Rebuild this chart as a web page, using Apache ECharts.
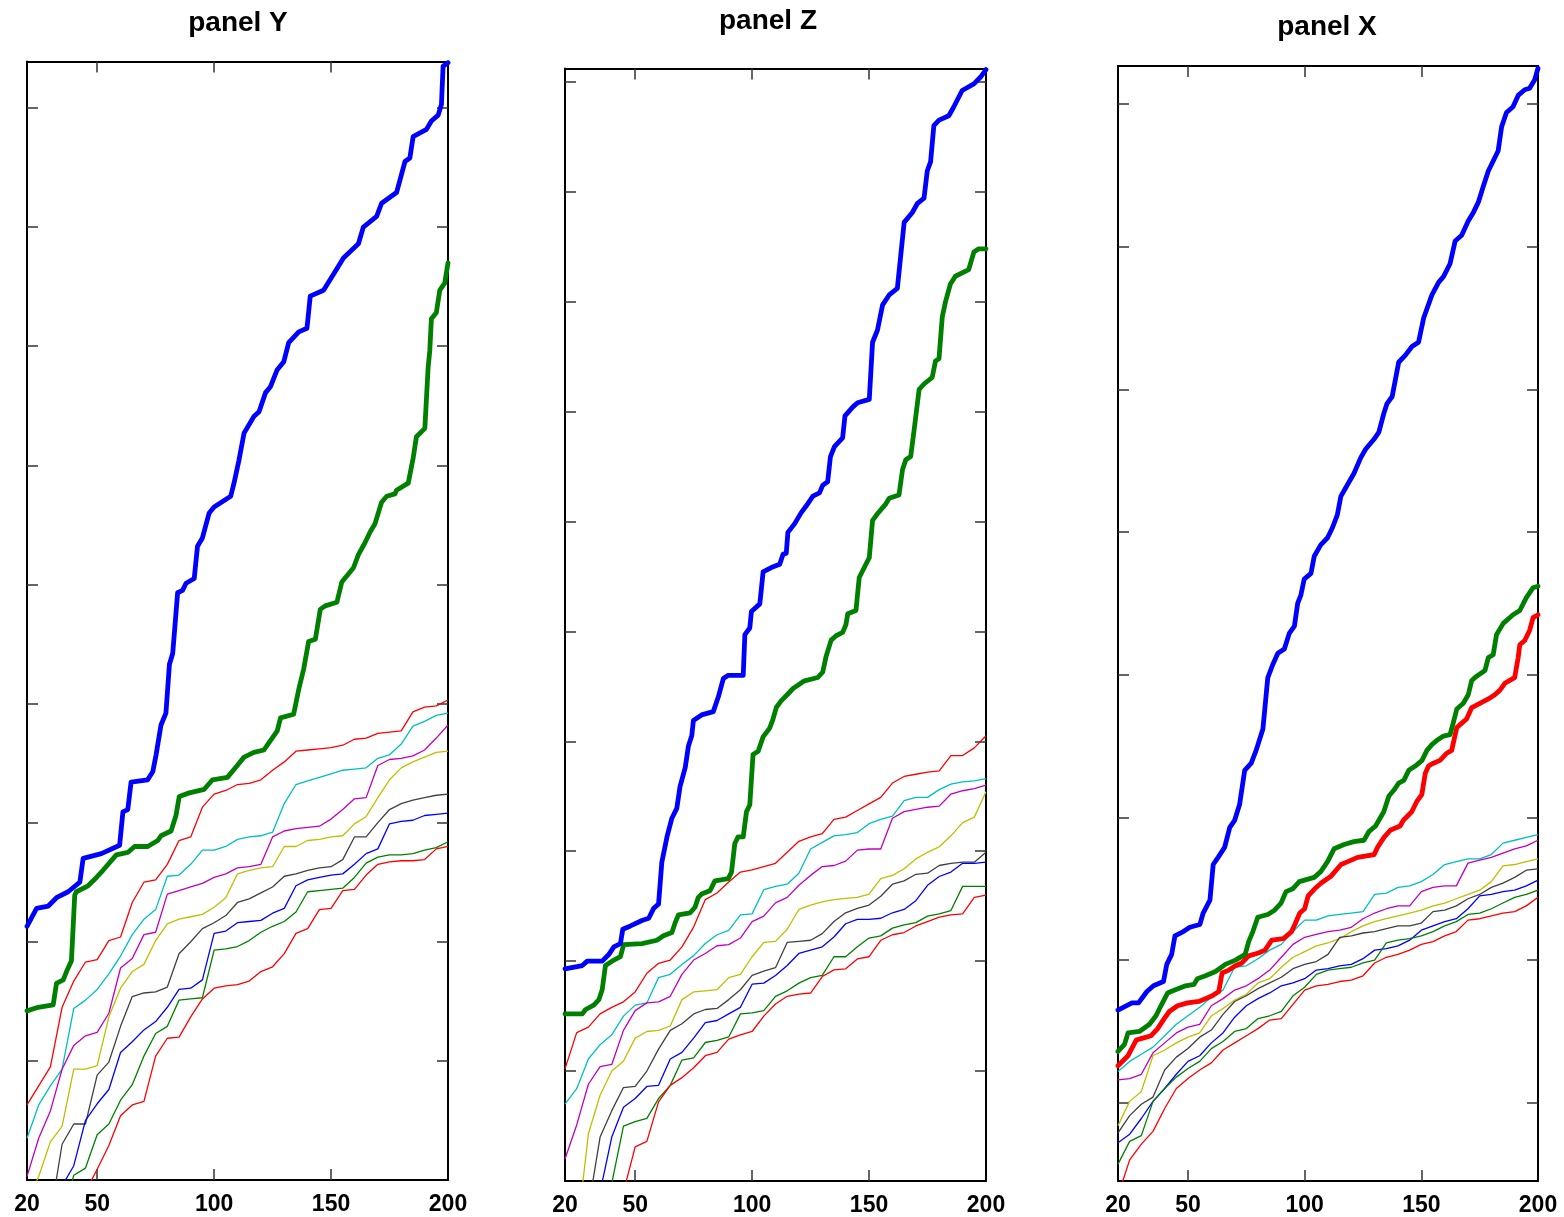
<!DOCTYPE html>
<html>
<head>
<meta charset="utf-8">
<script src="https://cdn.jsdelivr.net/npm/echarts@6/dist/echarts.min.js"></script>
<style>
html,body{margin:0;padding:0;background:#fff;}
#chart{width:1564px;height:1217px;}
</style>
</head>
<body>
<div id="chart"></div>
<script>
// ---------- shared x grid and tick labels ----------
const xGrid = [20,25,30,35,40,45,50,55,60,65,70,75,80,85,90,95,100,105,110,115,120,125,130,135,140,145,150,155,160,165,170,175,180,185,190,195,200];
const xTickLabels = [20,50,100,150,200];
const xInnerTicks = [50,100,150];
const panelTitles = ['panel Y','panel Z','panel X'];

// ---------- panel Y ----------
const Y_red1    = [0.63,0.79,0.95,1.45,1.67,1.83,1.85,2.01,2.04,2.33,2.50,2.52,2.65,2.85,2.88,3.13,3.24,3.27,3.32,3.33,3.36,3.44,3.51,3.60,3.61,3.62,3.63,3.65,3.70,3.71,3.75,3.76,3.77,3.93,3.97,3.98,4.03];
const Y_cyan    = [0.35,0.63,0.79,0.93,1.44,1.51,1.60,1.73,1.88,2.06,2.19,2.27,2.55,2.56,2.65,2.77,2.77,2.80,2.86,2.88,2.89,2.92,3.16,3.32,3.35,3.38,3.41,3.44,3.45,3.46,3.54,3.57,3.66,3.81,3.85,3.90,3.92];
const Y_magenta = [0.03,0.35,0.58,0.93,1.13,1.21,1.24,1.40,1.78,1.86,2.06,2.08,2.40,2.43,2.46,2.49,2.54,2.57,2.62,2.63,2.65,2.88,2.93,2.95,2.96,2.97,3.03,3.11,3.20,3.21,3.48,3.53,3.54,3.56,3.61,3.71,3.82];
const Y_yellow  = [-0.2,0.03,0.32,0.45,0.93,0.93,0.96,1.37,1.61,1.75,1.81,2.01,2.15,2.19,2.21,2.23,2.29,2.37,2.57,2.60,2.62,2.63,2.80,2.80,2.85,2.86,2.88,2.89,2.99,3.05,3.21,3.36,3.46,3.51,3.55,3.59,3.60];
const Y_gray    = [-0.8,-0.5,-0.3,0.30,0.47,0.47,0.88,0.99,1.29,1.54,1.57,1.58,1.62,1.90,2.00,2.11,2.16,2.22,2.33,2.36,2.41,2.46,2.55,2.57,2.60,2.62,2.63,2.69,2.88,2.88,3.00,3.11,3.16,3.19,3.21,3.23,3.24];
const Y_blue    = [-1.0,-0.7,-0.4,-0.05,0.12,0.50,0.64,0.76,1.07,1.16,1.26,1.33,1.45,1.60,1.61,1.68,2.07,2.09,2.16,2.17,2.18,2.24,2.28,2.47,2.52,2.54,2.56,2.57,2.65,2.74,2.78,2.99,3.01,3.02,3.06,3.07,3.08];
const Y_green   = [-1.2,-1.0,-0.7,-0.3,0.04,0.10,0.38,0.47,0.67,0.80,1.04,1.23,1.29,1.51,1.52,1.53,1.93,1.94,1.96,2.01,2.08,2.13,2.17,2.25,2.42,2.43,2.44,2.45,2.54,2.66,2.71,2.73,2.73,2.74,2.77,2.79,2.84];
const Y_red2    = [-1.4,-1.2,-0.9,-0.6,-0.3,-0.1,0.09,0.29,0.54,0.63,0.66,1.04,1.19,1.20,1.37,1.52,1.61,1.63,1.64,1.67,1.75,1.79,1.90,2.07,2.11,2.27,2.28,2.43,2.44,2.56,2.65,2.67,2.68,2.68,2.69,2.78,2.80];
const Y_thickBlue = [[20,2.13],[24.1,2.28],[29.1,2.30],[32.6,2.37],[37.6,2.42],[42.6,2.50],[44.0,2.70],[51.8,2.74],[59.6,2.81],[61.0,3.09],[63.1,3.11],[64.5,3.34],[71.6,3.36],[73.8,3.43],[75.2,3.57],[77.3,3.82],[79.4,3.92],[80.9,4.33],[82.3,4.42],[84.4,4.93],[86.5,4.95],[88.0,5.01],[91.5,5.05],[92.9,5.32],[95.0,5.39],[97.9,5.60],[100.0,5.65],[107.1,5.74],[108.5,5.85],[110.6,6.04],[112.8,6.27],[117.0,6.41],[119.2,6.45],[122.0,6.61],[124.1,6.66],[126.9,6.80],[129.8,6.87],[131.9,7.03],[136.2,7.12],[139.7,7.15],[141.1,7.42],[146.8,7.47],[152.5,7.65],[155.3,7.74],[161.7,7.86],[163.8,8.00],[169.5,8.09],[171.6,8.20],[178.0,8.29],[179.4,8.39],[181.6,8.55],[183.7,8.58],[185.1,8.76],[190.8,8.82],[192.9,8.89],[195.8,8.94],[197.2,9.03],[197.9,9.35],[200,9.38]];
const Y_thickGreen = [[20,1.42],[24.8,1.45],[31.2,1.47],[32.6,1.65],[35.5,1.68],[36.9,1.75],[39.0,1.84],[40.4,2.39],[41.1,2.42],[46.1,2.47],[49.7,2.54],[52.5,2.60],[58.2,2.73],[63.1,2.75],[66.0,2.80],[71.6,2.80],[75.9,2.85],[77.3,2.89],[81.6,2.93],[83.7,3.06],[85.1,3.22],[89.4,3.25],[95.8,3.28],[99.3,3.36],[105.7,3.38],[109.9,3.48],[112.8,3.55],[117.0,3.59],[121.3,3.61],[123.4,3.67],[127.0,3.77],[128.4,3.88],[134.0,3.91],[136.2,4.12],[138.3,4.29],[140.4,4.52],[143.3,4.54],[145.4,4.79],[147.5,4.82],[152.5,4.85],[154.6,5.02],[157.5,5.09],[159.6,5.14],[161.7,5.25],[164.5,5.35],[166.7,5.44],[168.8,5.51],[171.6,5.69],[173.8,5.74],[177.3,5.76],[178.0,5.79],[183.0,5.85],[185.1,6.06],[186.5,6.24],[190.1,6.31],[191.5,6.82],[192.2,6.96],[192.9,7.23],[195.0,7.28],[196.5,7.47],[198.6,7.53],[200,7.70]];

// ---------- panel Z ----------
const Z_red1    = [1.02,1.35,1.40,1.52,1.58,1.63,1.72,1.89,1.98,2.01,2.13,2.31,2.56,2.62,2.72,2.81,2.83,2.86,2.89,2.99,3.09,3.13,3.16,3.29,3.31,3.37,3.43,3.49,3.62,3.68,3.70,3.72,3.73,3.87,3.87,3.94,4.05];
const Z_cyan    = [0.70,0.84,1.11,1.24,1.33,1.50,1.60,1.62,1.85,1.88,1.97,2.05,2.16,2.24,2.28,2.42,2.43,2.65,2.68,2.70,2.80,3.02,3.08,3.14,3.15,3.17,3.25,3.29,3.32,3.46,3.49,3.49,3.56,3.61,3.63,3.64,3.66];
const Z_magenta = [0.20,0.51,0.88,1.04,1.06,1.37,1.55,1.62,1.63,1.68,1.88,2.01,2.07,2.14,2.15,2.21,2.36,2.41,2.53,2.58,2.69,2.78,2.86,2.87,2.91,3.01,3.02,3.02,3.30,3.36,3.38,3.40,3.41,3.52,3.55,3.57,3.60];
const Z_yellow  = [-1.6,-0.5,0.43,0.78,1.00,1.09,1.30,1.36,1.37,1.41,1.65,1.72,1.73,1.74,1.85,1.88,2.04,2.17,2.18,2.29,2.47,2.51,2.54,2.56,2.57,2.58,2.61,2.75,2.78,2.84,2.93,2.99,3.04,3.14,3.26,3.31,3.54];
const Z_gray    = [-1.2,-0.8,-0.25,0.40,0.64,0.85,0.86,1.00,1.20,1.37,1.43,1.52,1.56,1.57,1.65,1.74,1.87,1.91,1.94,2.17,2.18,2.19,2.25,2.36,2.44,2.48,2.51,2.59,2.70,2.73,2.79,2.80,2.87,2.89,2.90,2.90,2.99];
const Z_blue    = [-1.4,-1.0,-0.6,-0.1,0.40,0.67,0.75,0.86,0.87,1.11,1.17,1.30,1.44,1.46,1.52,1.58,1.79,1.80,1.87,1.96,2.07,2.10,2.13,2.22,2.34,2.38,2.38,2.39,2.44,2.47,2.55,2.69,2.77,2.81,2.89,2.89,2.90];
const Z_green   = [-1.6,-1.2,-0.8,-0.4,-0.02,0.50,0.54,0.57,0.75,0.87,1.10,1.12,1.26,1.28,1.31,1.52,1.53,1.55,1.68,1.73,1.80,1.85,1.87,2.04,2.04,2.13,2.21,2.23,2.30,2.33,2.35,2.41,2.43,2.46,2.68,2.68,2.68];
const Z_red2    = [-1.8,-1.4,-1.0,-0.6,-0.4,-0.1,0.31,0.36,0.72,0.87,0.94,1.03,1.14,1.17,1.29,1.33,1.36,1.50,1.61,1.68,1.70,1.71,1.86,1.92,1.93,2.02,2.04,2.19,2.24,2.26,2.32,2.36,2.40,2.42,2.43,2.58,2.60];
const Z_thickBlue = [[20,1.93],[27.4,1.96],[29.5,2.00],[35.9,2.00],[38.7,2.06],[40.9,2.13],[43.7,2.16],[44.7,2.29],[48.0,2.32],[52.9,2.37],[55.8,2.39],[57.9,2.48],[60.0,2.52],[61.4,2.90],[63.6,3.13],[65.7,3.30],[67.8,3.39],[69.2,3.59],[71.4,3.76],[72.8,3.96],[74.2,4.05],[74.9,4.19],[78.4,4.24],[83.4,4.27],[85.5,4.40],[87.7,4.57],[89.8,4.60],[96.2,4.60],[96.9,4.97],[99.0,5.03],[99.7,5.18],[103.3,5.25],[104.7,5.54],[108.2,5.58],[111.8,5.61],[113.2,5.70],[114.6,5.71],[115.3,5.90],[118.2,5.98],[121.0,6.08],[123.1,6.14],[126.0,6.23],[128.8,6.26],[130.2,6.33],[132.3,6.36],[133.5,6.59],[135.2,6.68],[138.7,6.76],[139.7,6.96],[143.0,7.04],[145.1,7.08],[150.1,7.11],[151.5,7.63],[153.6,7.74],[155.8,7.97],[158.6,8.06],[162.1,8.12],[165.0,8.72],[168.5,8.81],[170.6,8.89],[173.5,8.94],[174.9,9.19],[176.3,9.27],[177.7,9.60],[179.9,9.65],[184.1,9.69],[186.2,9.77],[189.8,9.92],[194.8,9.98],[197.6,10.04],[200,10.11]];
const Z_thickGreen = [[20,1.52],[27.4,1.52],[28.8,1.56],[32.3,1.60],[34.5,1.65],[35.9,1.74],[37.3,1.96],[40.1,2.00],[43.7,2.04],[45.1,2.15],[52.9,2.16],[59.3,2.19],[62.1,2.23],[65.7,2.26],[67.1,2.35],[68.5,2.42],[73.5,2.44],[75.6,2.49],[77.0,2.58],[78.4,2.61],[82.0,2.64],[84.1,2.73],[89.8,2.75],[91.2,2.81],[92.6,3.07],[94.0,3.13],[96.2,3.13],[97.6,3.36],[99.0,3.42],[100.4,3.88],[102.6,3.91],[104.7,4.04],[107.5,4.12],[108.9,4.20],[110.4,4.31],[112.5,4.37],[115.3,4.43],[117.5,4.48],[122.4,4.55],[128.1,4.58],[130.2,4.63],[131.6,4.77],[133.8,4.92],[135.9,4.96],[138.7,4.99],[140.1,5.06],[140.9,5.16],[144.4,5.19],[145.8,5.49],[150.1,5.67],[151.5,6.01],[153.6,6.07],[157.2,6.16],[158.6,6.21],[162.8,6.24],[164.3,6.47],[165.7,6.56],[167.8,6.59],[169.2,6.82],[171.4,7.20],[173.5,7.25],[177.0,7.31],[178.4,7.46],[179.9,7.48],[181.3,7.86],[182.7,8.00],[184.8,8.16],[186.9,8.23],[192.6,8.29],[194.8,8.45],[196.9,8.48],[200,8.48]];

// ---------- panel X ----------
const X_cyan    = [0.22,0.29,0.34,0.39,0.47,0.55,0.61,0.67,0.74,0.79,0.95,0.96,1.01,1.07,1.11,1.20,1.28,1.28,1.31,1.32,1.33,1.34,1.46,1.47,1.51,1.52,1.55,1.60,1.67,1.69,1.71,1.71,1.74,1.82,1.84,1.86,1.88];
const X_magenta = [0.16,0.17,0.20,0.35,0.42,0.49,0.53,0.55,0.68,0.73,0.79,0.82,0.87,0.93,1.02,1.11,1.16,1.18,1.20,1.21,1.23,1.29,1.33,1.36,1.38,1.38,1.48,1.51,1.52,1.52,1.68,1.70,1.72,1.75,1.78,1.80,1.84];
const X_yellow  = [-0.16,0.01,0.08,0.33,0.37,0.42,0.46,0.49,0.61,0.66,0.72,0.76,0.84,0.87,0.95,1.02,1.06,1.10,1.12,1.15,1.20,1.24,1.27,1.29,1.31,1.33,1.35,1.38,1.40,1.43,1.46,1.49,1.55,1.66,1.67,1.69,1.71];
const X_gray    = [-0.21,-0.09,-0.01,0.04,0.23,0.32,0.38,0.46,0.51,0.62,0.71,0.75,0.80,0.84,0.88,0.94,0.97,0.99,1.04,1.16,1.17,1.19,1.20,1.22,1.24,1.24,1.26,1.34,1.35,1.38,1.43,1.46,1.51,1.54,1.58,1.63,1.64];
const X_blue    = [-0.28,-0.22,-0.11,0.01,0.10,0.20,0.29,0.33,0.42,0.49,0.60,0.68,0.73,0.77,0.82,0.84,0.87,0.93,0.94,0.96,0.97,1.01,1.07,1.08,1.10,1.14,1.21,1.24,1.27,1.29,1.36,1.45,1.46,1.48,1.49,1.52,1.56];
const X_green   = [-0.43,-0.27,-0.23,0.01,0.10,0.18,0.24,0.29,0.38,0.43,0.50,0.52,0.59,0.61,0.64,0.75,0.81,0.90,0.93,0.94,0.95,0.98,1.00,1.12,1.14,1.15,1.17,1.20,1.24,1.27,1.32,1.33,1.36,1.40,1.44,1.46,1.49];
const X_red     = [-0.65,-0.40,-0.29,-0.20,-0.04,0.10,0.17,0.23,0.28,0.37,0.42,0.47,0.52,0.58,0.59,0.69,0.79,0.82,0.83,0.85,0.86,0.89,0.98,1.02,1.04,1.07,1.11,1.13,1.17,1.20,1.28,1.29,1.31,1.33,1.34,1.38,1.44];
const X_thickBlue = [[20,0.65],[26.0,0.70],[28.8,0.70],[32.4,0.78],[35.2,0.82],[39.5,0.85],[40.9,0.97],[43.0,1.04],[44.4,1.17],[48.0,1.20],[50.8,1.23],[55.1,1.25],[56.5,1.33],[59.4,1.42],[60.8,1.67],[62.9,1.72],[65.7,1.79],[67.9,1.93],[70.0,1.98],[72.1,2.09],[74.3,2.33],[77.1,2.38],[79.2,2.47],[82.1,2.62],[84.2,2.98],[86.3,3.07],[88.5,3.15],[91.3,3.18],[93.4,3.29],[95.6,3.34],[97.0,3.50],[98.4,3.56],[99.8,3.67],[102.7,3.71],[104.1,3.83],[106.9,3.91],[109.8,3.96],[111.9,4.03],[114.0,4.12],[115.5,4.25],[117.6,4.31],[121.1,4.41],[124.0,4.52],[126.1,4.58],[129.7,4.65],[131.8,4.70],[133.9,4.83],[135.3,4.90],[137.5,4.95],[140.3,5.19],[143.2,5.24],[146.0,5.30],[148.8,5.33],[151.0,5.50],[154.5,5.66],[157.4,5.75],[159.5,5.79],[162.3,5.88],[164.5,6.04],[167.3,6.08],[170.1,6.18],[172.3,6.24],[174.4,6.31],[176.5,6.42],[178.7,6.53],[180.8,6.60],[182.9,6.67],[184.4,6.84],[186.5,6.94],[189.3,6.98],[191.5,7.06],[194.3,7.10],[196.4,7.11],[198.6,7.17],[200,7.25]];
const X_thickGreen = [[20,0.36],[22.8,0.41],[24.3,0.49],[29.2,0.50],[33.5,0.55],[36.3,0.61],[38.4,0.68],[41.3,0.77],[42.7,0.78],[49.0,0.82],[52.6,0.83],[54.0,0.87],[57.5,0.89],[61.8,0.92],[66.0,0.97],[70.3,1.00],[74.5,1.04],[76.0,1.13],[77.8,1.20],[79.9,1.30],[84.2,1.32],[87.1,1.35],[89.9,1.40],[92.0,1.48],[94.9,1.50],[97.7,1.55],[104.1,1.58],[106.9,1.62],[109.8,1.69],[112.6,1.78],[116.9,1.81],[121.1,1.83],[125.4,1.84],[127.5,1.90],[130.4,1.94],[131.8,1.98],[133.9,2.04],[136.1,2.15],[138.2,2.19],[140.3,2.24],[142.5,2.26],[144.6,2.33],[147.4,2.36],[150.3,2.40],[152.4,2.47],[154.5,2.51],[156.7,2.54],[159.5,2.57],[162.3,2.58],[163.8,2.67],[165.2,2.76],[168.0,2.80],[170.1,2.86],[171.6,2.96],[173.7,2.99],[177.3,3.03],[178.7,3.12],[180.8,3.14],[182.2,3.28],[185.1,3.36],[189.3,3.42],[192.2,3.45],[195.0,3.54],[197.9,3.61],[200,3.62]];
const X_thickRed = [[20,0.26],[24.3,0.33],[27.8,0.44],[29.9,0.45],[34.2,0.47],[37.0,0.52],[39.8,0.59],[42.0,0.64],[45.5,0.68],[49.8,0.70],[54.7,0.71],[57.5,0.73],[60.4,0.75],[63.2,0.78],[64.6,0.91],[67.5,0.93],[70.3,0.96],[73.1,0.98],[76.0,1.03],[80.2,1.05],[83.0,1.07],[85.9,1.14],[90.8,1.15],[94.4,1.20],[95.8,1.25],[97.9,1.33],[100.0,1.36],[101.5,1.45],[104.3,1.50],[107.1,1.54],[111.4,1.59],[115.6,1.67],[118.5,1.69],[122.7,1.72],[129.8,1.74],[131.2,1.79],[134.0,1.86],[136.7,1.91],[140.9,1.94],[142.3,1.98],[145.9,2.04],[148.0,2.11],[150.2,2.16],[151.7,2.31],[153.1,2.36],[155.2,2.38],[158.0,2.40],[160.9,2.45],[163.0,2.47],[165.2,2.63],[166.6,2.65],[169.4,2.69],[171.6,2.77],[175.1,2.80],[178.7,2.83],[181.5,2.86],[183.6,2.89],[185.8,2.94],[187.9,2.96],[190.0,2.98],[191.5,3.12],[192.2,3.21],[194.3,3.24],[196.4,3.31],[197.9,3.40],[200,3.42]];

// y tick positions (unlabelled) per panel
const yTicksY = [1,2,3,4,5,6,7,8,9];
const yTicksZ = [1,2,3,4,5,6,7,8,9,10];
const yTicksX = [0,1,2,3,4,5,6,7];

// ---------- styling / layout ----------
const COL = {red:'#ff0000', cyan:'#00bfbf', magenta:'#bf00bf', yellow:'#bfbf00', gray:'#404040', blue:'#0000ff', green:'#008000'};
const FONT = "'Liberation Sans', Arial, sans-serif";
const panels = [
  {title:panelTitles[0], titleX:238, titleTop:9,  left:27,  top:61.5, width:421, height:1118.5, ymin:0,      ymax:9.39,  yticks:yTicksY,
   thin:[[Y_red1,'red'],[Y_cyan,'cyan'],[Y_magenta,'magenta'],[Y_yellow,'yellow'],[Y_gray,'gray'],[Y_blue,'blue'],[Y_green,'green'],[Y_red2,'red']],
   thick:[[Y_thickGreen,'green'],[Y_thickBlue,'blue']]},
  {title:panelTitles[1], titleX:768, titleTop:7,  left:565, top:68.5, width:421, height:1117.5, ymin:0,      ymax:10.12, yticks:yTicksZ,
   thin:[[Z_red1,'red'],[Z_cyan,'cyan'],[Z_magenta,'magenta'],[Z_yellow,'yellow'],[Z_gray,'gray'],[Z_blue,'blue'],[Z_green,'green'],[Z_red2,'red']],
   thick:[[Z_thickGreen,'green'],[Z_thickBlue,'blue']]},
  {title:panelTitles[2], titleX:1327, titleTop:13, left:1118, top:66, width:420, height:1117.3, ymin:-0.548, ymax:7.266, yticks:yTicksX,
   thin:[[X_cyan,'cyan'],[X_magenta,'magenta'],[X_yellow,'yellow'],[X_gray,'gray'],[X_blue,'blue'],[X_green,'green'],[X_red,'red']],
   thick:[[X_thickRed,'red'],[X_thickGreen,'green'],[X_thickBlue,'blue']]}
];

const axisLineStyle = {show:true, onZero:false, lineStyle:{color:'#000', width:2}};
const tickStyle = {color:'#333', width:1.5};

const option = {animation:false, backgroundColor:'#fff', title:[], grid:[], xAxis:[], yAxis:[], series:[]};

panels.forEach((p, i) => {
  option.title.push({text:p.title, left:p.titleX, top:p.titleTop, textAlign:'center', padding:0,
    textStyle:{fontFamily:FONT, fontWeight:'bold', fontSize:28, color:'#000'}});
  option.grid.push({left:p.left, top:p.top, width:p.width, height:p.height, containLabel:false});
  // bottom x axis
  option.xAxis.push({type:'value', gridIndex:i, position:'bottom', min:20, max:200,
    axisLine:axisLineStyle, splitLine:{show:false},
    axisTick:{show:true, inside:true, length:11, lineStyle:tickStyle, customValues:xInnerTicks},
    axisLabel:{show:true, customValues:xTickLabels, margin:13, color:'#000', fontFamily:FONT, fontWeight:'bold', fontSize:23}});
  // top x axis (ticks only)
  option.xAxis.push({type:'value', gridIndex:i, position:'top', min:20, max:200,
    axisLine:axisLineStyle, splitLine:{show:false},
    axisTick:{show:true, inside:true, length:11, lineStyle:tickStyle, customValues:xInnerTicks},
    axisLabel:{show:false}});
  // left / right y axes (ticks only)
  ['left','right'].forEach(pos => {
    option.yAxis.push({type:'value', gridIndex:i, position:pos, min:p.ymin, max:p.ymax,
      axisLine:axisLineStyle, splitLine:{show:false},
      axisTick:{show:true, inside:true, length:11, lineStyle:tickStyle, customValues:p.yticks},
      axisLabel:{show:false, customValues:p.yticks}});
  });
  p.thin.forEach(([vals, c]) => {
    option.series.push({type:'line', xAxisIndex:2*i, yAxisIndex:2*i, showSymbol:false, symbol:'none', clip:true,
      data: xGrid.map((x, k) => [x, vals[k]]),
      lineStyle:{color:COL[c], width:1.3}, itemStyle:{color:COL[c]}, z:2});
  });
  p.thick.forEach(([pts, c]) => {
    option.series.push({type:'line', xAxisIndex:2*i, yAxisIndex:2*i, showSymbol:false, symbol:'none', clip:true,
      data: pts, lineStyle:{color:COL[c], width:4.8, join:'round', cap:'round'}, itemStyle:{color:COL[c]}, z:3});
  });
});

const chart = echarts.init(document.getElementById('chart'), null, {renderer:'canvas'});
chart.setOption(option);
</script>
</body>
</html>
